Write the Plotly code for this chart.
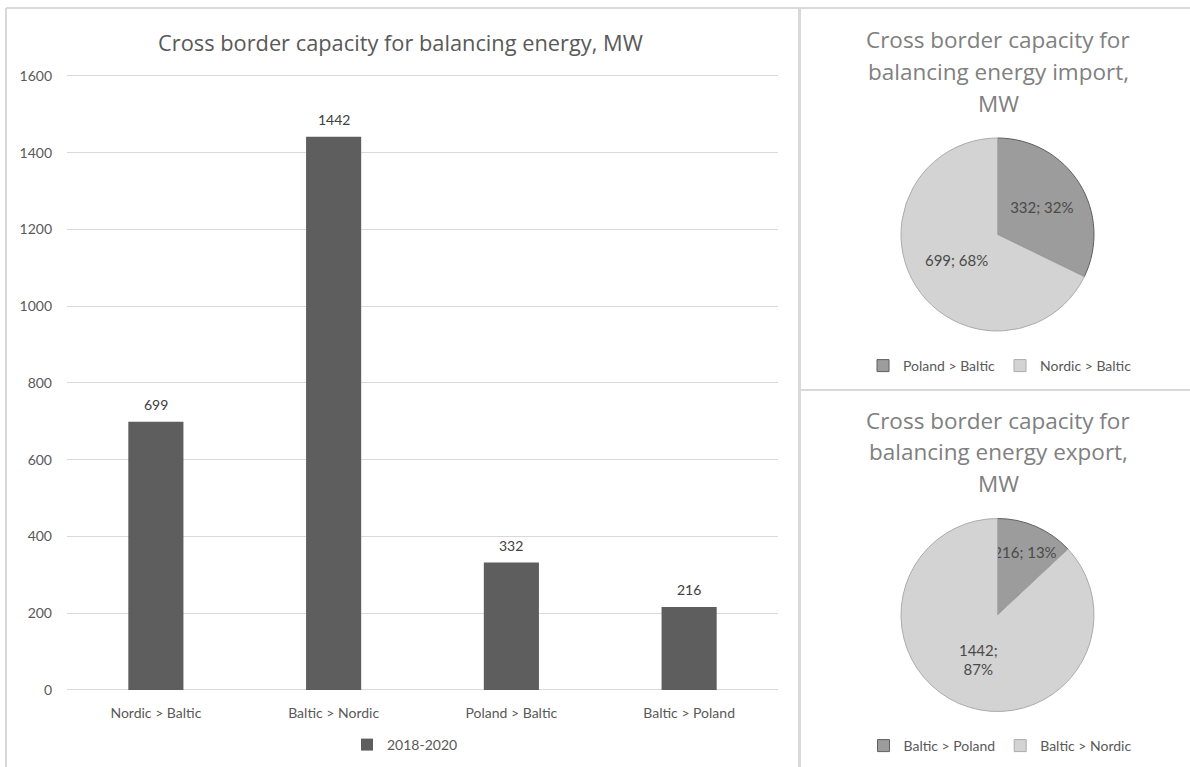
import plotly.graph_objects as go

# --- data -------------------------------------------------------------
categories = ["Nordic > Baltic", "Baltic > Nordic", "Poland > Baltic", "Baltic > Poland"]
capacity_2018_2020 = [699, 1442, 332, 216]
series_name = "2018-2020"

import_labels = ["Poland > Baltic", "Nordic > Baltic"]
import_values = [332, 699]

export_labels = ["Baltic > Poland", "Baltic > Nordic"]
export_values = [216, 1442]

y_ticks = [0, 200, 400, 600, 800, 1000, 1200, 1400, 1600]

main_title = "Cross border capacity for balancing energy, MW"
import_title = ["Cross border capacity for", "balancing energy import,", "MW"]
export_title = ["Cross border capacity for", "balancing energy export,", "MW"]

# --- page geometry (pixels) -----------------------------------------------
W, H = 1190, 767
FONT = "Lato, 'Open Sans', sans-serif"
TITLE_FONT = "'Open Sans', Lato, sans-serif"


def px_x(x):
    return x / W


def px_y(y):
    return 1 - y / H


# value axis: 0 sits at y=690 px, 1600 at y=76 px; pad the range a hair so the
# first and last gridlines are not clipped at the plot edges
Y_LO, Y_HI = 0, 1600
PAD = 3
PIX_PER_UNIT = (690 - 76) / (Y_HI - Y_LO)
y_domain = [px_y(690 + PAD * PIX_PER_UNIT), px_y(76 - PAD * PIX_PER_UNIT)]

fig = go.Figure()

fig.add_trace(go.Bar(
    x=categories,
    y=capacity_2018_2020,
    name=series_name,
    marker=dict(color="#5e5e5e", line=dict(width=0)),
    hoverinfo="skip",
    legend="legend",
))

pie_common = dict(
    sort=False,
    direction="clockwise",
    rotation=0,
    textposition="inside",
    insidetextorientation="horizontal",
    hoverinfo="skip",
)

fig.add_trace(go.Pie(
    labels=import_labels,
    values=import_values,
    texttemplate="%{value}; %{percent:.0%}",
    marker=dict(colors=["#9c9c9c", "#d3d3d3"],
                line=dict(color=["#5f5f5f", "#ababab"], width=1)),
    textfont=dict(size=15, color="#4a4a4a", family=FONT),
    domain=dict(x=[px_x(901), px_x(1094)], y=[px_y(331), px_y(138)]),
    legend="legend2",
    **pie_common,
))

fig.add_trace(go.Pie(
    labels=export_labels,
    values=export_values,
    texttemplate=["%{value}; %{percent:.0%}", "%{value};<br>%{percent:.0%}"],
    marker=dict(colors=["#9c9c9c", "#d3d3d3"],
                line=dict(color=["#5f5f5f", "#ababab"], width=1)),
    textfont=dict(size=15, color="#4a4a4a", family=FONT),
    domain=dict(x=[px_x(901), px_x(1094)], y=[px_y(712), px_y(518)]),
    legend="legend3",
    **pie_common,
))

# --- value labels above the bars ------------------------------------------------
annotations = [dict(
    x=c, y=v, xref="x", yref="y", text=str(v), showarrow=False,
    xanchor="center", yanchor="bottom", yshift=7,
    font=dict(size=14, color="#404040", family=FONT),
) for c, v in zip(categories, capacity_2018_2020)]

# --- titles ---------------------------------------------------------------
annotations.append(dict(
    text=main_title, x=px_x(400), y=px_y(43), xref="paper", yref="paper",
    xanchor="center", yanchor="middle", showarrow=False,
    font=dict(size=21.8, color="#595959", family=TITLE_FONT),
))
for title, y0 in ((import_title, 40), (export_title, 420)):
    for i, line in enumerate(title):
        annotations.append(dict(
            text=line, x=px_x(998), y=px_y(y0 + i * 31.5), xref="paper", yref="paper",
            xanchor="center", yanchor="middle", showarrow=False,
            font=dict(size=22.5, color="#808080", family=TITLE_FONT),
        ))

# --- panel frames ------------------------------------------------------------
frame = dict(color="#d9d9d9", width=2)
shapes = [
    dict(type="line", xref="paper", yref="paper", x0=px_x(6), x1=1, y0=px_y(8), y1=px_y(8), line=frame),
    dict(type="line", xref="paper", yref="paper", x0=px_x(6), x1=px_x(6), y0=px_y(8), y1=0, line=frame),
    dict(type="line", xref="paper", yref="paper", x0=px_x(799.5), x1=px_x(799.5), y0=px_y(8), y1=0, line=dict(color="#d9d9d9", width=3)),
    dict(type="line", xref="paper", yref="paper", x0=px_x(801), x1=1, y0=px_y(390), y1=px_y(390), line=frame),
]

legend_font = dict(size=14, color="#595959", family=FONT)

fig.update_layout(
    width=W, height=H, autosize=False,
    margin=dict(l=0, r=0, t=0, b=0, pad=0, autoexpand=False),
    paper_bgcolor="white", plot_bgcolor="white",
    font=dict(family=FONT, color="#595959"),
    bargap=0.69,
    xaxis=dict(
        domain=[px_x(67), px_x(778)],
        showgrid=False, showline=False, zeroline=False,
        tickfont=dict(size=14, color="#595959", family=FONT),
        ticks="", ticklabelstandoff=12,
        fixedrange=True,
    ),
    yaxis=dict(
        domain=y_domain,
        range=[Y_LO - PAD, Y_HI + PAD], tickvals=y_ticks,
        showgrid=True, gridcolor="#d9d9d9", gridwidth=1,
        zeroline=False, showline=False,
        tickfont=dict(size=14, color="#595959", family=FONT),
        ticks="", ticklabelstandoff=14,
        fixedrange=True,
    ),
    legend=dict(
        orientation="h", x=px_x(405), y=px_y(745), xanchor="center", yanchor="middle",
        font=legend_font, bgcolor="rgba(0,0,0,0)", itemwidth=30,
    ),
    legend2=dict(
        orientation="h", x=px_x(1000), y=px_y(366), xanchor="center", yanchor="middle",
        font=legend_font, bgcolor="rgba(0,0,0,0)", itemwidth=30,
    ),
    legend3=dict(
        orientation="h", x=px_x(1000), y=px_y(746), xanchor="center", yanchor="middle",
        font=legend_font, bgcolor="rgba(0,0,0,0)", itemwidth=30,
    ),
    uniformtext=dict(minsize=15, mode="show"),
    annotations=annotations,
    shapes=shapes,
    showlegend=True,
)

fig.write_html("out.html", config={"displayModeBar": False})
